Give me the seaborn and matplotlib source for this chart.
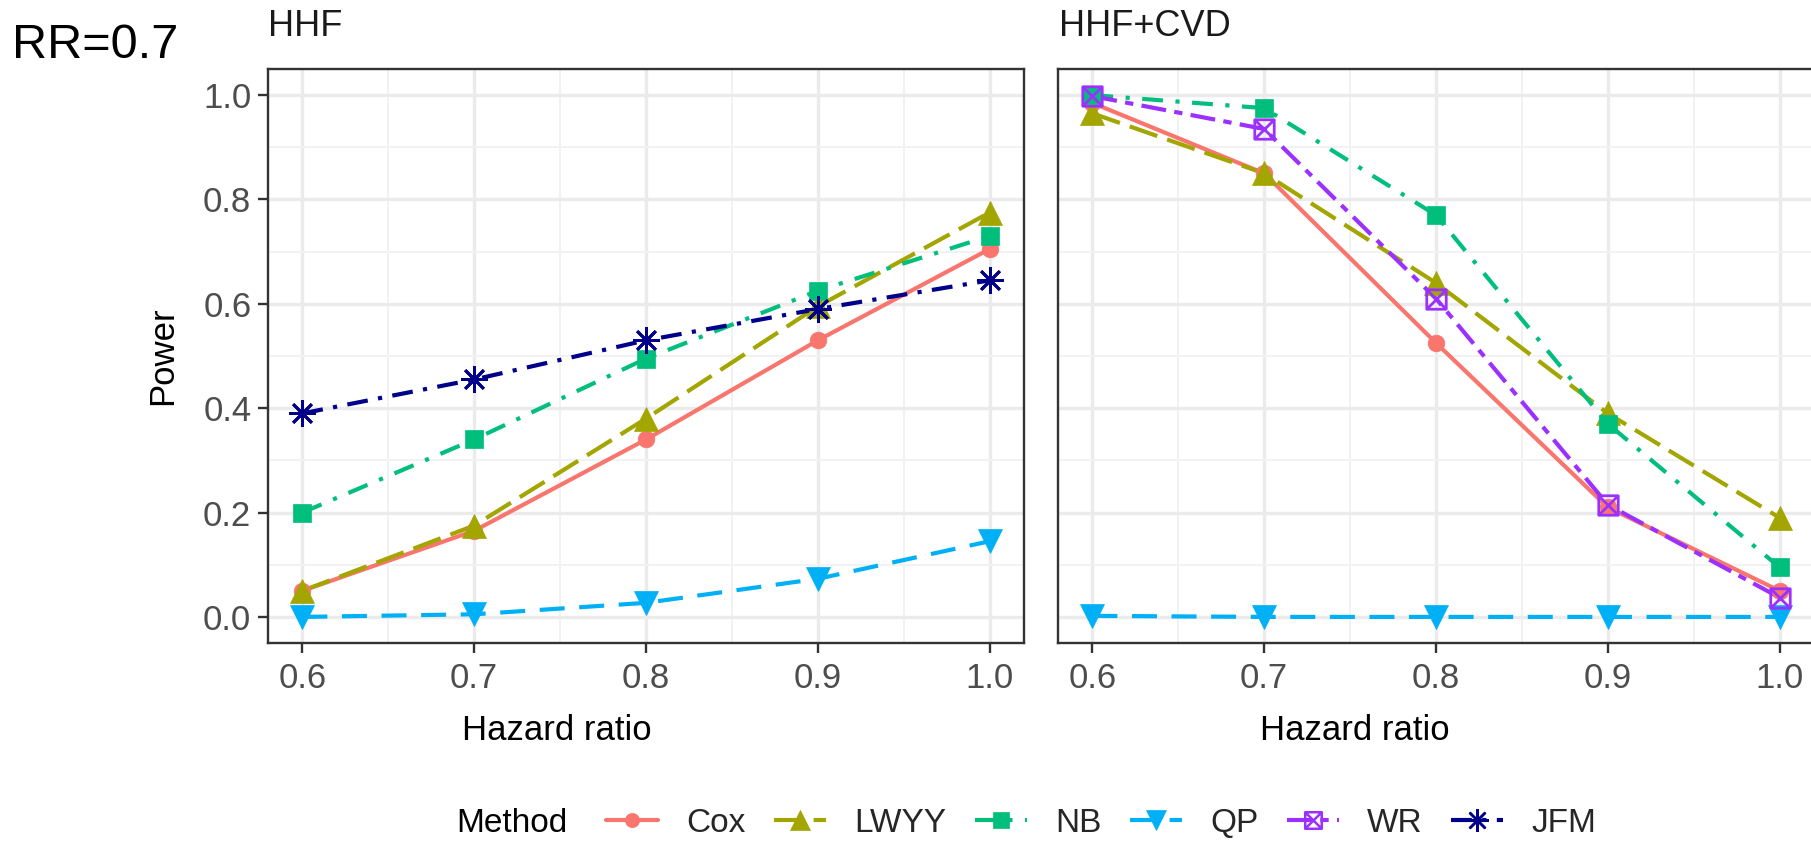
import numpy as np
import pandas as pd
import matplotlib
matplotlib.use("Agg")
import matplotlib.pyplot as plt
from matplotlib.path import Path
from matplotlib.lines import Line2D
import seaborn as sns

# ---------------- data ----------------
hazard_ratio = [0.6, 0.7, 0.8, 0.9, 1.0]
methods = ["Cox", "LWYY", "NB", "QP", "WR", "JFM"]

hhf_cox = [0.05, 0.165, 0.34, 0.53, 0.705]
hhf_lwyy = [0.05, 0.175, 0.38, 0.595, 0.775]
hhf_nb = [0.20, 0.34, 0.495, 0.625, 0.73]
hhf_qp = [0.0, 0.005, 0.027, 0.073, 0.145]
hhf_jfm = [0.39, 0.455, 0.53, 0.59, 0.645]

cvd_cox = [0.985, 0.85, 0.525, 0.21, 0.05]
cvd_lwyy = [0.965, 0.85, 0.64, 0.39, 0.19]
cvd_nb = [1.0, 0.975, 0.77, 0.37, 0.095]
cvd_qp = [0.002, 0.0, 0.0, 0.0, 0.0]
cvd_wr = [0.998, 0.935, 0.61, 0.215, 0.037]

panels = {
    "HHF": {"Cox": hhf_cox, "LWYY": hhf_lwyy, "NB": hhf_nb, "QP": hhf_qp, "JFM": hhf_jfm},
    "HHF+CVD": {"Cox": cvd_cox, "LWYY": cvd_lwyy, "NB": cvd_nb, "QP": cvd_qp, "WR": cvd_wr},
}

# ---------------- styles ----------------
colors = {"Cox": "#F8766D", "LWYY": "#A3A500", "NB": "#00BF7D",
          "QP": "#00B0F6", "WR": "#9B30FF", "JFM": "#00008B"}
dashes = {"Cox": "-", "LWYY": (0, (7, 2.5)), "NB": (0, (5, 3, 1, 3)),
          "QP": (0, (6, 3.5)), "WR": (0, (6, 2, 2, 2)), "JFM": (0, (5, 2.5, 1, 2.5))}
sq_x = Path([(-1, -1), (1, -1), (1, 1), (-1, 1), (-1, -1), (-1, -1), (1, 1), (-1, 1), (1, -1)],
            [Path.MOVETO, Path.LINETO, Path.LINETO, Path.LINETO, Path.CLOSEPOLY,
             Path.MOVETO, Path.LINETO, Path.MOVETO, Path.LINETO])
markers = {"Cox": "o", "LWYY": "^", "NB": "s", "QP": "v", "WR": sq_x, "JFM": (8, 2, 0)}
msizes = {"Cox": 12, "LWYY": 17, "NB": 13, "QP": 17, "WR": 14, "JFM": 19}

FONT = ["Liberation Sans", "DejaVu Sans"]
sns.set_theme(style="white")
plt.rcParams["font.family"] = FONT

W, H = 1811, 841
fig = plt.figure(figsize=(W / 100, H / 100), dpi=100)

def ax_rect(x0, x1, y0, y1):
    return [x0 / W, 1 - y1 / H, (x1 - x0) / W, (y1 - y0) / H]

ax_l = fig.add_axes(ax_rect(268, 1024, 69, 643))
ax_r = fig.add_axes(ax_rect(1058, 1814, 69, 643))

LW = 3.0
for ax, (pname, series) in zip([ax_l, ax_r], panels.items()):
    ax.set_facecolor("white")
    ax.set_xlim(0.58, 1.02)
    ax.set_ylim(-0.05, 1.05)
    ax.set_xticks(hazard_ratio)
    ax.set_xticks([0.65, 0.75, 0.85, 0.95], minor=True)
    ax.set_yticks([0, 0.2, 0.4, 0.6, 0.8, 1.0])
    ax.set_yticks([0.1, 0.3, 0.5, 0.7, 0.9], minor=True)
    ax.grid(which="major", color="#EBEBEB", linewidth=2.4, zorder=0)
    ax.grid(which="minor", color="#F2F2F2", linewidth=1.4, zorder=0)
    ax.set_axisbelow(True)
    for s in ax.spines.values():
        s.set_color("#333333")
        s.set_linewidth(1.7)
    # lines first
    for m in methods:
        if m not in series:
            continue
        df = pd.DataFrame({"hr": hazard_ratio, "power": series[m]})
        sns.lineplot(data=df, x="hr", y="power", ax=ax, color=colors[m],
                     linewidth=LW, linestyle=dashes[m], legend=False,
                     zorder=3)
    # points on top
    for m in methods:
        if m not in series:
            continue
        df = pd.DataFrame({"hr": hazard_ratio, "power": series[m]})
        filled = m not in ("WR", "JFM")
        sns.lineplot(data=df, x="hr", y="power", ax=ax, color=colors[m],
                     linestyle="none", marker=markers[m], markersize=msizes[m],
                     markerfacecolor=colors[m] if filled else "none",
                     markeredgecolor=colors[m],
                     markeredgewidth=0.5 if filled else 2.0,
                     legend=False, zorder=4)
    ax.set_xlabel("")
    ax.set_ylabel("")
    ax.tick_params(axis="x", which="major", length=7, width=1.7, color="#333333",
                   labelsize=25, labelcolor="#4D4D4D", pad=7, bottom=True)
    ax.tick_params(axis="y", which="major", length=7, width=1.7, color="#333333",
                   labelsize=25, labelcolor="#4D4D4D", pad=5, left=True)
    ax.tick_params(which="minor", length=0)
    ax.set_xticklabels(["0.6", "0.7", "0.8", "0.9", "1.0"])
    ax.set_yticklabels(["0.0", "0.2", "0.4", "0.6", "0.8", "1.0"])

ax_r.tick_params(axis="y", left=False, labelleft=False)

# strip titles
fig.text(268 / W, 1 - 26 / H, "HHF", fontsize=26, va="center", ha="left", color="#1A1A1A")
fig.text(1059 / W, 1 - 26 / H, "HHF+CVD", fontsize=26, va="center", ha="left", color="#1A1A1A")
fig.text(12 / W, 1 - 46 / H, "RR=0.7", fontsize=35, va="center", ha="left", color="black")

# axis titles
fig.text(557 / W, 1 - 730 / H, "Hazard ratio", fontsize=25, ha="center", va="center", color="black")
fig.text(1355 / W, 1 - 730 / H, "Hazard ratio", fontsize=25, ha="center", va="center", color="black")
fig.text(163 / W, 1 - 356 / H, "Power", fontsize=25, ha="center", va="center", rotation=90, color="black")

# legend
fig.text(456 / W, 1 - 823 / H, "Method", fontsize=24, ha="left", va="center", color="black")
handles = []
for m in methods:
    filled = m not in ("WR", "JFM")
    handles.append(Line2D([], [], color=colors[m], linewidth=LW, linestyle=dashes[m],
                          marker=markers[m], markersize=msizes[m] * 0.85,
                          markerfacecolor=colors[m] if filled else "none",
                          markeredgecolor=colors[m],
                          markeredgewidth=0.5 if filled else 1.8))
leg = fig.legend(handles, methods, loc="center left", bbox_to_anchor=(606 / W, 1 - 823 / H),
                 ncol=6, frameon=False, fontsize=24, handlelength=1.56,
                 handletextpad=0.85, columnspacing=0.85, borderpad=0, borderaxespad=0)

fig.savefig("out.png", dpi=100, facecolor="white")
